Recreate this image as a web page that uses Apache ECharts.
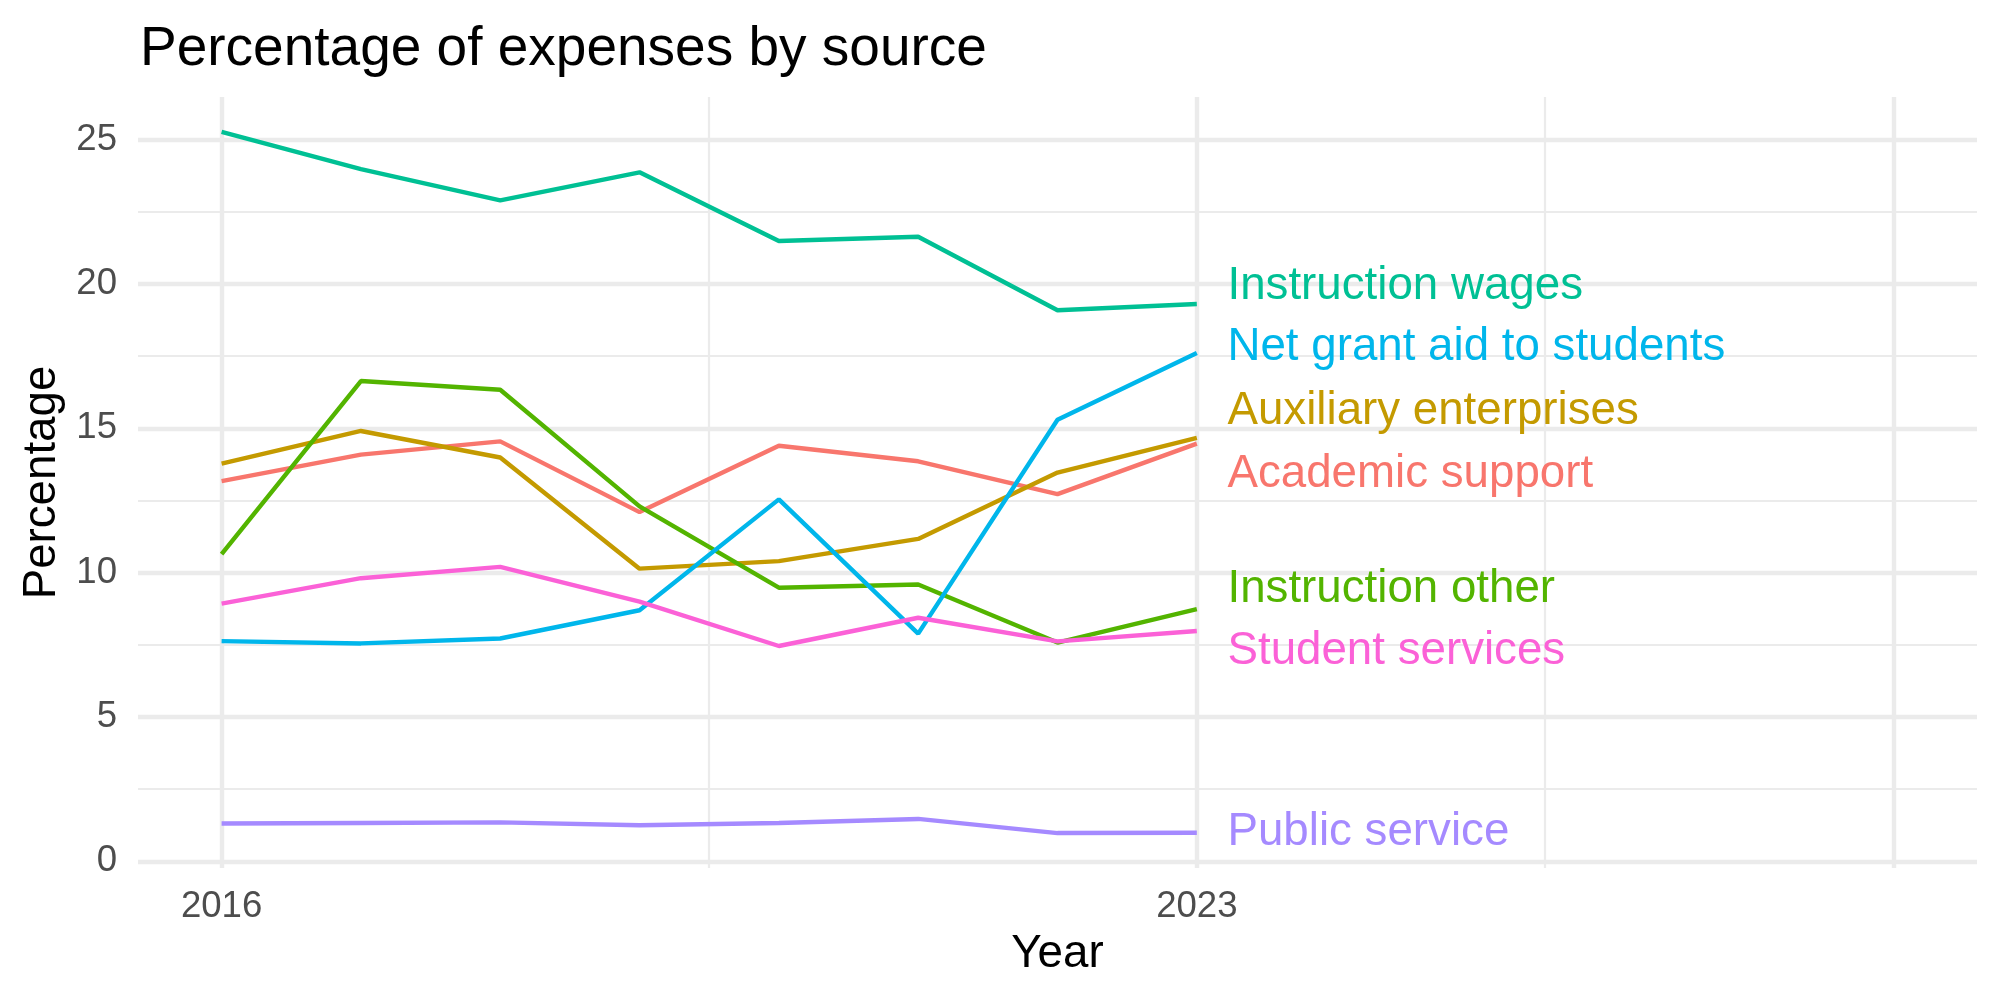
<!DOCTYPE html>
<html>
<head>
<meta charset="utf-8">
<script src="https://cdn.jsdelivr.net/npm/echarts@6/dist/echarts.min.js"></script>
<style>
  html, body { margin: 0; padding: 0; background: #fff; }
  #chart { width: 2000px; height: 1000px; }
</style>
</head>
<body>
<div id="chart"></div>
<script>
// years on the x axis
const years = [2016, 2017, 2018, 2019, 2020, 2021, 2022, 2023]

// percentage of expenses, one array per source
const academicSupport = [13.17, 14.09, 14.55, 12.10, 14.40, 13.86, 12.72, 14.47]
const auxiliaryEnterprises = [13.78, 14.91, 13.99, 10.14, 10.40, 11.17, 13.47, 14.67]
const instructionOther = [10.64, 16.64, 16.34, 12.30, 9.48, 9.59, 7.58, 8.74]
const instructionWages = [25.27, 23.98, 22.90, 23.87, 21.49, 21.64, 19.09, 19.31]
const netGrantAid = [7.63, 7.55, 7.72, 8.70, 12.54, 7.89, 15.30, 17.61]
const publicService = [1.31, 1.33, 1.35, 1.25, 1.33, 1.47, 0.98, 0.99]
const studentServices = [8.93, 9.81, 10.20, 9.00, 7.46, 8.44, 7.62, 7.98]

const seriesNames = ['Academic support', 'Auxiliary enterprises', 'Instruction other', 'Instruction wages',
  'Net grant aid to students', 'Public service', 'Student services']
const seriesValues = [academicSupport, auxiliaryEnterprises, instructionOther, instructionWages,
  netGrantAid, publicService, studentServices]

// end labels (repelled vertical positions, in data units)
const labelX = 2023.22
const labelY = [13.42, 15.59, 9.41, 19.92, 17.79, 1.0, 7.29]

// axis ticks and grid lines
const xTickLabels = [2016, 2023]
const xMajorGrid = [2016, 2023, 2028]
const xMinorGrid = [2019.5, 2025.5]
const yTickLabels = [0, 5, 10, 15, 20, 25]
const yMinorGrid = [2.5, 7.5, 12.5, 17.5, 22.5]

const colors = ['#F8766D', '#C49A00', '#53B400', '#00C094', '#00B6EB', '#A58AFF', '#FB61D7']
const font = 'Liberation Sans, Arial, Helvetica, sans-serif'

const myChart = echarts.init(document.getElementById('chart'))

// grid lines drawn as mark lines so they can sit on arbitrary values
const gridSeries = (xs, ys, width) => ({
  type: 'line',
  data: [],
  silent: true,
  z: 1,
  animation: false,
  markLine: {
    silent: true,
    z: 1,
    symbol: ['none', 'none'],
    label: { show: false },
    animation: false,
    lineStyle: { color: '#EBEBEB', width: width, type: 'solid' },
    emphasis: { disabled: true },
    data: xs.map((v) => ({ xAxis: v })).concat(ys.map((v) => ({ yAxis: v }))),
  },
})

const lineSeries = seriesNames.map((name, i) => ({
  name: name,
  type: 'line',
  z: 10,
  data: years.map((y, j) => [y, seriesValues[i][j]]),
  showSymbol: false,
  symbol: 'none',
  lineStyle: { color: colors[i], width: 4.4 },
  itemStyle: { color: colors[i] },
  animation: false,
}))

const labelSeries = {
  type: 'scatter',
  z: 20,
  symbolSize: 0,
  silent: true,
  animation: false,
  itemStyle: { opacity: 1 },
  data: seriesNames.map((name, i) => ({
    value: [labelX, labelY[i]],
    name: name,
    label: { color: colors[i] },
  })),
  label: {
    show: true,
    position: 'right',
    distance: 0,
    opacity: 1,
    fontFamily: font,
    fontSize: 45.7,
    formatter: (p) => p.name,
  },
}

const option = {
  backgroundColor: '#fff',
  animation: false,
  title: {
    text: 'Percentage of expenses by source',
    left: 135,
    top: 17,
    textStyle: { fontFamily: font, fontSize: 55, fontWeight: 'normal', color: '#000' },
  },
  grid: { left: 138, right: 23, top: 97, bottom: 132, outerBoundsMode: 'none', containLabel: false },
  xAxis: {
    type: 'value',
    min: 2015.4,
    max: 2028.6,
    name: 'Year',
    nameLocation: 'middle',
    nameGap: 63,
    nameTextStyle: { fontFamily: font, fontSize: 45.7, color: '#000' },
    axisLine: { show: false },
    axisTick: { show: false },
    splitLine: { show: false },
    axisLabel: {
      customValues: xTickLabels,
      margin: 20,
      fontFamily: font,
      fontSize: 36.6,
      color: '#4D4D4D',
      formatter: (v) => String(v),
    },
  },
  yAxis: {
    type: 'value',
    min: -0.23,
    max: 26.48,
    name: 'Percentage',
    nameLocation: 'middle',
    nameGap: 72,
    nameRotate: 90,
    nameTextStyle: { fontFamily: font, fontSize: 45.7, color: '#000' },
    axisLine: { show: false },
    axisTick: { show: false },
    splitLine: { show: false },
    axisLabel: {
      customValues: yTickLabels,
      margin: 21,
      fontFamily: font,
      fontSize: 36.6,
      color: '#4D4D4D',
    },
  },
  series: [
    gridSeries(xMinorGrid, yMinorGrid, 2.2),
    gridSeries(xMajorGrid, yTickLabels, 4.4),
  ].concat(lineSeries, [labelSeries]),
}

myChart.setOption(option)
window.onresize = function () {
  myChart.resize()
}
</script>
</body>
</html>
